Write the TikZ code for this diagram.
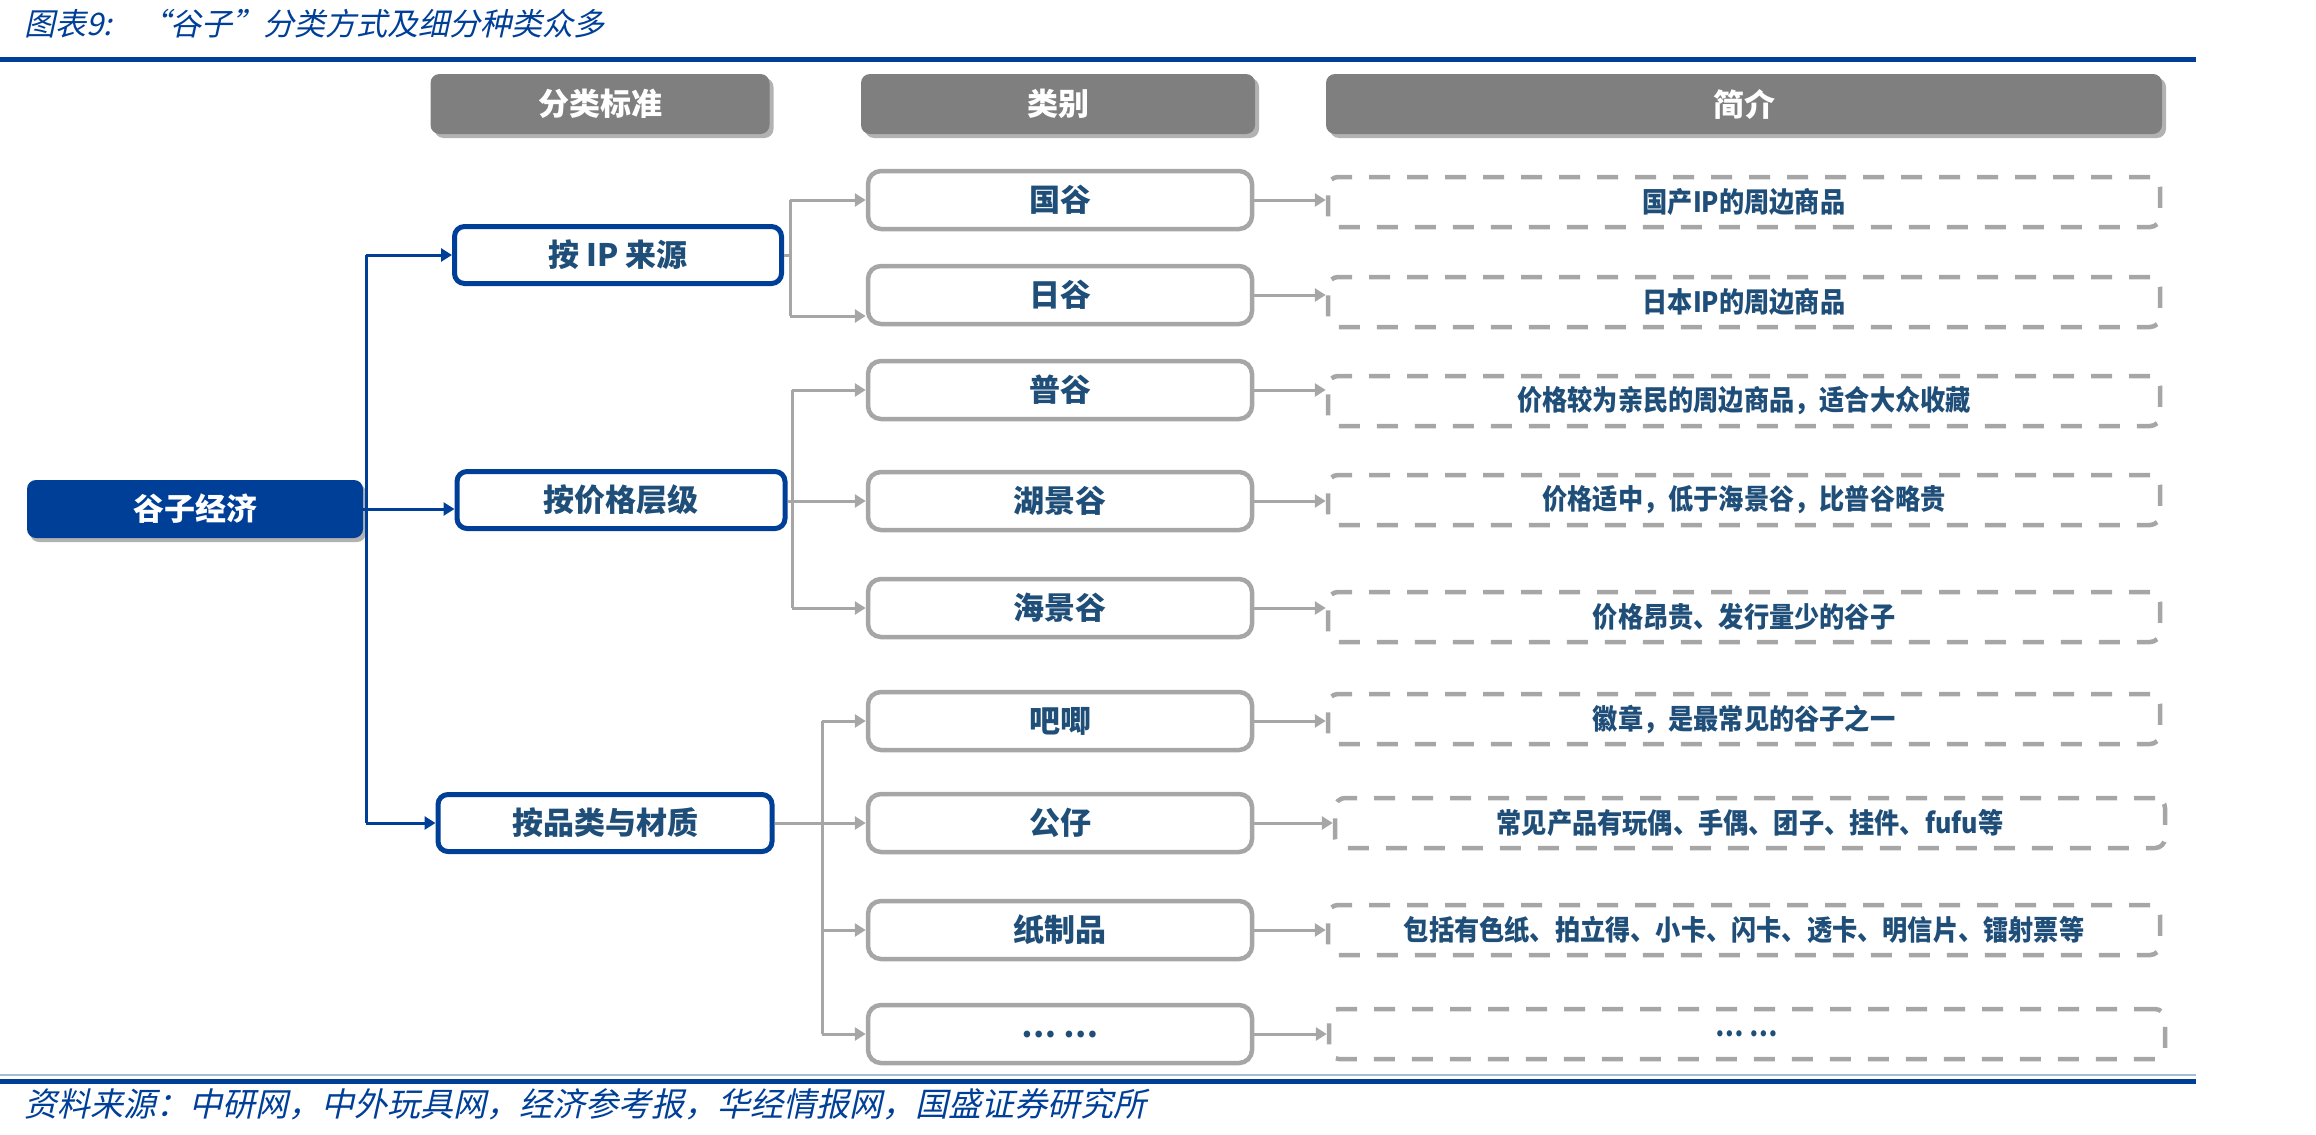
\documentclass[tikz,border=0pt]{standalone}
\usepackage{fontspec}
\usepackage{graphicx}
\setmainfont{Noto Sans CJK SC}
\newfontfamily\ttlfont[FakeSlant=0.22]{Noto Sans CJK SC}
\usetikzlibrary{arrows.meta,shadows}
\definecolor{dblue}{RGB}{0,63,152}
\definecolor{tblue}{RGB}{31,78,121}
\definecolor{lgray}{RGB}{166,166,166}
\definecolor{hgray}{RGB}{127,127,127}
\newcommand{\bigf}{\bfseries\fontsize{31}{36}\selectfont}
\newcommand{\descf}{\bfseries\fontsize{28}{32}\selectfont}
\newcommand{\dtxt}[1]{\scalebox{0.9}[1]{#1}}
\newcommand{\capf}{\ttlfont\fontsize{31}{35}\selectfont}
\newcommand{\footf}{\ttlfont\fontsize{33}{37}\selectfont}
\tikzset{
  hdr/.style={fill=hgray, rounded corners=9, minimum height=60, inner sep=0, text=white, font=\bigf,
    drop shadow={shadow xshift=4pt, shadow yshift=-4pt, opacity=0.3, fill=black}},
  rootbox/.style={fill=dblue, rounded corners=9, minimum width=336, minimum height=58, inner sep=0, text=white, font=\bigf,
    drop shadow={shadow xshift=3pt, shadow yshift=-4pt, opacity=0.3, fill=black}},
  lone/.style={draw=dblue, line width=5, fill=white, rounded corners=10, minimum height=57, inner sep=0, text=tblue, font=\bigf},
  ltwo/.style={draw=lgray, line width=4.5, fill=white, rounded corners=13, minimum width=384, minimum height=58, inner sep=0, text=tblue, font=\bigf},
  lthree/.style={draw=lgray, line width=4.5, dash pattern=on 21pt off 17pt, rounded corners=10, minimum height=50, inner sep=0, text=tblue, font=\descf},
  bline/.style={draw=dblue, line width=3},
  barrow/.style={bline, -{Triangle[length=11pt,width=13pt]}},
  gline/.style={draw=lgray, line width=3},
  garrow/.style={gline, -{Triangle[length=11pt,width=13pt]}},
}
\begin{document}
\begin{tikzpicture}[x=1pt,y=-1pt]
\useasboundingbox (0,0) rectangle (2316,1135);
% title and rules
\node[anchor=west, text=dblue, font=\capf, inner sep=0] (title) at (24,24) {图表9:\hspace{0.9em}“谷子”分类方式及细分种类众多};
\draw[dblue, line width=5] (0,59) -- (2196,59);
\draw[dblue!35, line width=1.5] (0,1075) -- (2196,1075);
\draw[dblue, line width=5] (0,1081) -- (2196,1081);
\node[anchor=west, text=dblue, font=\footf, inner sep=0] (foot) at (24,1104) {资料来源：中研网，中外玩具网，经济参考报，华经情报网，国盛证券研究所};
% headers
\node[hdr, minimum width=339] (h1) at (600,104) {分类标准};
\node[hdr, minimum width=394] (h2) at (1058,104) {类别};
\node[hdr, minimum width=836] (h3) at (1744,104) {简介};
% root
\node[rootbox] (root) at (195,509) {谷子经济};
% level one
\node[lone, minimum width=327] (la) at (618,255) {按 IP 来源};
\node[lone, minimum width=328] (lb) at (621,500) {按价格层级};
\node[lone, minimum width=334] (lc) at (605,823) {按品类与材质};
% level two
\node[ltwo] (a1) at (1060,200) {国谷};
\node[ltwo] (a2) at (1060,295) {日谷};
\node[ltwo] (b1) at (1060,390) {普谷};
\node[ltwo] (b2) at (1060,501) {湖景谷};
\node[ltwo] (b3) at (1060,608) {海景谷};
\node[ltwo] (c1) at (1060,721) {吧唧};
\node[ltwo] (c2) at (1060,823) {公仔};
\node[ltwo] (c3) at (1060,930) {纸制品};
\node[ltwo] (c4) at (1060,1034) {… …};
% level three
\node[lthree, minimum width=832] (d1) at (1744,202) {\dtxt{国产IP的周边商品}};
\node[lthree, minimum width=832] (d2) at (1744,302) {\dtxt{日本IP的周边商品}};
\node[lthree, minimum width=832] (d3) at (1744,401) {\dtxt{价格较为亲民的周边商品，适合大众收藏}};
\node[lthree, minimum width=832] (d4) at (1744,500) {\dtxt{价格适中，低于海景谷，比普谷略贵}};
\node[lthree, minimum width=832] (d5) at (1744,617) {\dtxt{价格昂贵、发行量少的谷子}};
\node[lthree, minimum width=832] (d6) at (1744,719) {\dtxt{徽章，是最常见的谷子之一}};
\node[lthree, minimum width=830] (d7) at (1750,823) {\dtxt{常见产品有玩偶、手偶、团子、挂件、fufu等}};
\node[lthree, minimum width=832] (d8) at (1744,930) {\dtxt{包括有色纸、拍立得、小卡、闪卡、透卡、明信片、镭射票等}};
\node[lthree, minimum width=836] (d9) at (1747,1034) {\dtxt{… …}};
% blue connectors
\coordinate (tr) at (366,509);
\draw[bline] (tr |- la.west) -- (tr |- lc.west);
\draw[bline] (root.east) -- (tr);
\draw[barrow] (tr |- la.west) -- (la.west);
\draw[barrow] (tr) -- (tr -| lb.west);
\draw[barrow] (tr |- lc.west) -- (lc.west);
% group one
\coordinate (g1) at (790,255);
\coordinate (g1b) at (790,316);
\draw[gline] (la.east) -- (g1);
\draw[gline] (g1 |- a1.west) -- (g1b);
\draw[garrow] (g1 |- a1.west) -- (a1.west);
\draw[garrow] (g1b) -- (g1b -| a2.west);
% group two
\coordinate (g2) at (792,501);
\draw[gline] (g2 |- b1.west) -- (g2 |- b3.west);
\draw[garrow] (lb.east |- b2.west) -- (b2.west);
\draw[garrow] (g2 |- b1.west) -- (b1.west);
\draw[garrow] (g2 |- b3.west) -- (b3.west);
% group three
\coordinate (g3) at (822,823);
\draw[gline] (g3 |- c1.west) -- (g3 |- c4.west);
\draw[garrow] (lc.east) -- (c2.west);
\draw[garrow] (g3 |- c1.west) -- (c1.west);
\draw[garrow] (g3 |- c3.west) -- (c3.west);
\draw[garrow] (g3 |- c4.west) -- (c4.west);
% level two to three
\foreach \s/\t in {a1/d1,a2/d2,b1/d3,b2/d4,b3/d5,c1/d6,c2/d7,c3/d8,c4/d9}{
  \draw[garrow] (\s.east) -- (\s.east -| \t.west);
}
\end{tikzpicture}
\end{document}
